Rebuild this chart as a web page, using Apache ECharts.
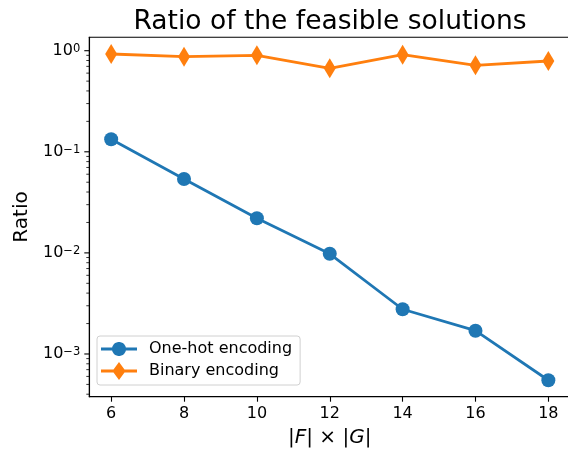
<!DOCTYPE html>
<html><head><meta charset="utf-8">
<script src="https://cdn.jsdelivr.net/npm/echarts@6/dist/echarts.min.js"></script>
<style>html,body{margin:0;padding:0;background:#fff}#c{width:568px;height:449px}</style>
</head><body><div id="c"></div>
<script>
const xValues = [6, 8, 10, 12, 14, 16, 18];
const oneHot = [0.133, 0.0538, 0.0220, 0.0098, 0.00277, 0.00170, 0.00055];
const binary = [0.928, 0.873, 0.900, 0.670, 0.913, 0.717, 0.791];
const xTicks = [6, 8, 10, 12, 14, 16, 18];
const yMajorTicks = [0.001, 0.01, 0.1, 1];
const yMinorTicks = [4e-4, 5e-4, 6e-4, 7e-4, 8e-4, 9e-4,
  2e-3, 3e-3, 4e-3, 5e-3, 6e-3, 7e-3, 8e-3, 9e-3,
  2e-2, 3e-2, 4e-2, 5e-2, 6e-2, 7e-2, 8e-2, 9e-2,
  0.2, 0.3, 0.4, 0.5, 0.6, 0.7, 0.8, 0.9];
const seriesNames = ['One-hot encoding', 'Binary encoding'];
const X_MIN = 5.4, X_MAX = 18.6, Y_MIN = 3.78e-4, Y_MAX = 1.357;

const FONT = 'DejaVu Sans';
const BLUE = '#1f77b4', ORANGE = '#ff7f0e';
const MAJOR_LEN = 5, MINOR_LEN = 3;

// legend icon: line with a circle in the middle, bbox 36 x 18
function circleIconPath() {
  const cx = 18, cy = 9, r = 7, hw = 1.4;
  const a0 = Math.asin(hw / r);
  const f = n => n.toFixed(3);
  let d = 'path://M0,0.001L0.001,0L0,0Z M0,18L0.001,18L0,17.999Z M0,' + f(cy - hw);
  const N = 24;
  for (let k = 0; k <= N; k++) {
    const t = Math.PI - a0 - (Math.PI - 2 * a0) * k / N;
    d += 'L' + f(cx + r * Math.cos(t)) + ',' + f(cy - r * Math.sin(t));
  }
  d += 'L36,' + f(cy - hw) + 'L36,' + f(cy + hw);
  for (let k = 0; k <= N; k++) {
    const t = a0 + (Math.PI - 2 * a0) * k / N;
    d += 'L' + f(cx + r * Math.cos(t)) + ',' + f(cy + r * Math.sin(t));
  }
  d += 'L0,' + f(cy + hw) + 'Z';
  return d;
}
const circleIcon = circleIconPath();
const diamondIcon = 'path://M0,7.6H12.5L18,0L23.5,7.6H36V10.4H23.5L18,18L12.5,10.4H0Z';

const tickData = yMajorTicks.map(v => [X_MIN, v, MAJOR_LEN]).concat(yMinorTicks.map(v => [X_MIN, v, MINOR_LEN]));

const chart = echarts.init(document.getElementById('c'), null, {renderer: 'canvas'});
chart.setOption({
  animation: false,
  backgroundColor: '#fff',
  textStyle: {fontFamily: FONT},
  graphic: [{
    type: 'text', x: 330, y: 22.5,
    style: {text: 'Ratio of the feasible solutions', fontSize: 26.5, fontFamily: FONT, fill: '#000', align: 'center', verticalAlign: 'middle'}
  }],
  grid: {left: 89.3, right: -2.2, top: 37.3, bottom: 52.3, outerBoundsMode: 'none', containLabel: false,
    show: true, borderColor: '#000', borderWidth: 1.1, backgroundColor: 'transparent'},
  legend: {
    orient: 'vertical', left: 97, top: 336,
    data: [{name: seriesNames[0], icon: circleIcon}, {name: seriesNames[1], icon: diamondIcon}],
    itemWidth: 36, itemHeight: 18, itemGap: 4,
    padding: [4, 8, 5, 4],
    borderColor: '#d0d0d0', borderWidth: 1, borderRadius: 3, backgroundColor: 'rgba(255,255,255,0.8)',
    itemStyle: {borderWidth: 0},
    textStyle: {fontSize: 16, fontFamily: FONT, color: '#000', padding: [0, 0, 0, 7]}
  },
  xAxis: {
    type: 'value', min: X_MIN, max: X_MAX,
    name: '|{i|F}| × |{i|G}|', nameLocation: 'middle', nameGap: 31,
    nameTextStyle: {fontSize: 20, fontFamily: FONT, color: '#000', rich: {i: {fontSize: 20, fontStyle: 'italic', fontFamily: FONT, color: '#000'}}},
    axisLine: {show: true, lineStyle: {color: '#000', width: 1.1}},
    axisTick: {show: true, inside: false, length: MAJOR_LEN, lineStyle: {color: '#000', width: 1.1}, customValues: xTicks},
    axisLabel: {fontSize: 16, fontFamily: FONT, color: '#000', margin: 9, customValues: xTicks},
    splitLine: {show: false}
  },
  yAxis: {
    type: 'log', logBase: 10, min: Y_MIN, max: Y_MAX,
    name: 'Ratio', nameLocation: 'middle', nameGap: 58,
    nameTextStyle: {fontSize: 20, fontFamily: FONT, color: '#000'},
    axisLine: {show: true, lineStyle: {color: '#000', width: 1.1}},
    axisTick: {show: false},
    axisLabel: {
      showMinLabel: false, showMaxLabel: false, margin: 9,
      formatter: function (v) {
        const e = Math.round(Math.log10(v));
        return '{b|10}{s|' + (e < 0 ? '\u2212' + (-e) : e) + '}';
      },
      rich: {
        b: {fontSize: 16, fontFamily: FONT, color: '#000', lineHeight: 16, verticalAlign: 'bottom'},
        s: {fontSize: 11.5, fontFamily: FONT, color: '#000', lineHeight: 12, verticalAlign: 'top', padding: [0, 0, 6, 0]}
      }
    },
    splitLine: {show: false}
  },
  series: [
    {
      name: seriesNames[0], type: 'line', data: xValues.map((x, i) => [x, oneHot[i]]),
      symbol: 'circle', symbolSize: 14, color: BLUE,
      lineStyle: {width: 2.8, color: BLUE}, itemStyle: {color: BLUE, borderWidth: 0}, z: 3
    },
    {
      name: seriesNames[1], type: 'line', data: xValues.map((x, i) => [x, binary[i]]),
      symbol: 'path://M0,-10L6,0L0,10L-6,0Z', symbolSize: [12, 20], color: ORANGE,
      lineStyle: {width: 2.8, color: ORANGE}, itemStyle: {color: ORANGE, borderWidth: 0}, z: 3
    },
    {
      name: 'ticks', type: 'custom', silent: true, clip: false, z: 5,
      data: tickData,
      renderItem: function (params, api) {
        const p = api.coord([api.value(0), api.value(1)]);
        const L = api.value(2);
        return {type: 'line', shape: {x1: p[0] - L, y1: p[1], x2: p[0], y2: p[1]},
          style: {stroke: '#000', lineWidth: L > 4 ? 1.1 : 0.8}};
      }
    }
  ]
});
</script>
</body></html>
